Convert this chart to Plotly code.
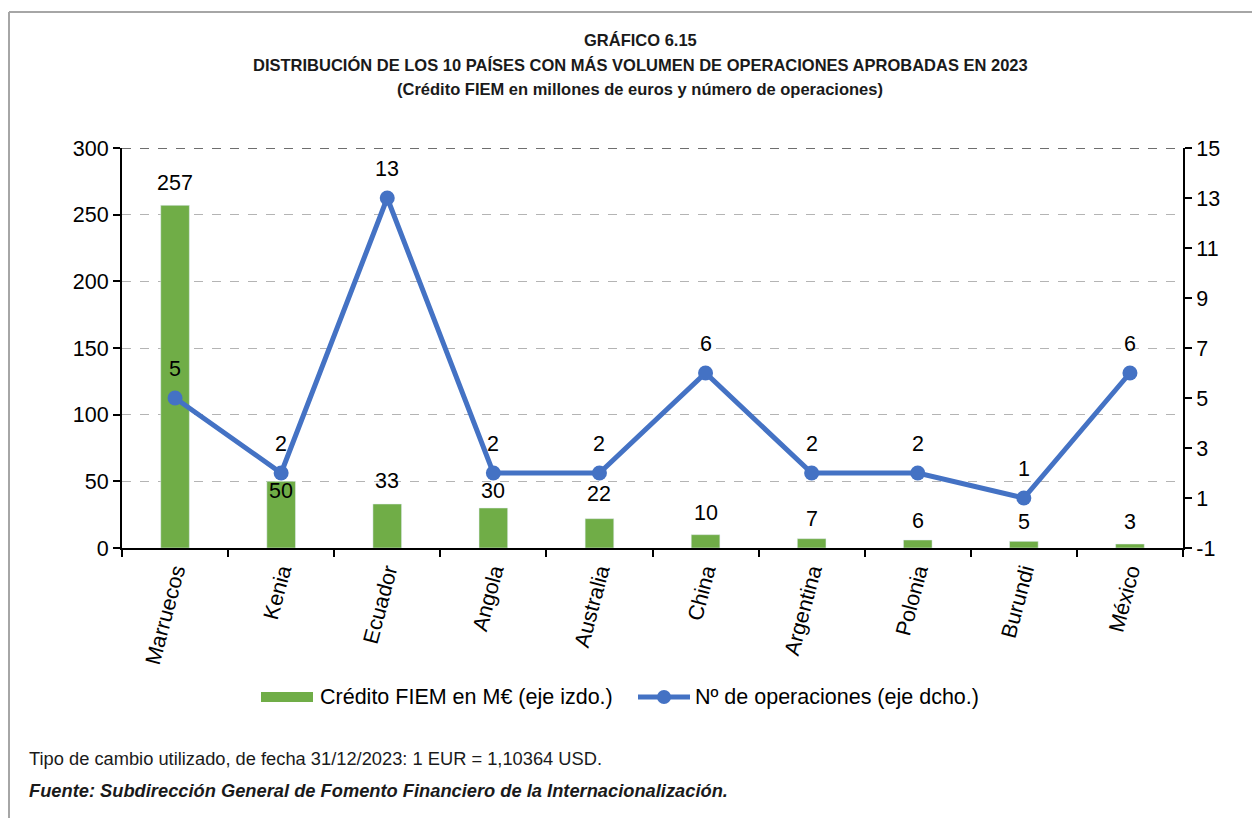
import plotly.graph_objects as go

countries = ["Marruecos", "Kenia", "Ecuador", "Angola", "Australia", "China",
             "Argentina", "Polonia", "Burundi", "México"]
credito = [257, 50, 33, 30, 22, 10, 7, 6, 5, 3]
operaciones = [5, 2, 13, 2, 2, 6, 2, 2, 1, 6]
left_ticks = [0, 50, 100, 150, 200, 250, 300]
right_ticks = [-1, 1, 3, 5, 7, 9, 11, 13, 15]

# label offsets (pixels) for bar value labels, mimicking the reference placement
bar_label_shift = [22, -10, 23, 17, 25, 22, 20, 19, 19, 22]
line_label_shift = 29

FONT = "Liberation Sans, Arial, sans-serif"
GREEN = "#70AD47"
BLUE = "#4472C4"
FS = 21.5

# plot area in reference pixels: x 122..1183, y 148..548
def px(x):
    return (x - 122) / 1061.0

def py(y):
    return (548 - y) / 400.0

fig = go.Figure()
fig.add_trace(go.Bar(
    x=countries, y=credito, name="Crédito FIEM en M€ (eje izdo.)",
    marker_color=GREEN, width=0.27, yaxis="y", showlegend=False))
fig.add_trace(go.Scatter(
    x=countries, y=operaciones, name="Nº de operaciones (eje dcho.)",
    mode="lines+markers", line=dict(color=BLUE, width=5),
    marker=dict(size=15, color=BLUE), yaxis="y2", showlegend=False))

annotations = []
for c, v, s in zip(countries, credito, bar_label_shift):
    annotations.append(dict(x=c, y=v, xref="x", yref="y", text=str(v),
                            showarrow=False, yshift=s, yanchor="middle",
                            font=dict(size=FS, color="#000", family=FONT)))
for c, v in zip(countries, operaciones):
    annotations.append(dict(x=c, y=v, xref="x", yref="y2", text=str(v),
                            showarrow=False, yshift=line_label_shift, yanchor="middle",
                            font=dict(size=FS, color="#000", family=FONT)))

title_lines = ["GRÁFICO 6.15",
               "DISTRIBUCIÓN DE LOS 10 PAÍSES CON MÁS VOLUMEN DE OPERACIONES APROBADAS EN 2023",
               "(Crédito FIEM en millones de euros y número de operaciones)"]
title_y = [40, 65, 89]
for t, yp in zip(title_lines, title_y):
    annotations.append(dict(x=px(640), y=py(yp), xref="paper", yref="paper", text="<b>%s</b>" % t,
                            showarrow=False, xanchor="center", yanchor="middle",
                            font=dict(size=16.5, color="#1a1a1a", family=FONT)))

# custom legend
annotations += [
    dict(x=px(318), y=py(697), xref="paper", yref="paper", text="Crédito FIEM en M€ (eje izdo.)",
         showarrow=False, xanchor="left", yanchor="middle", font=dict(size=FS, color="#000", family=FONT)),
    dict(x=px(693), y=py(697), xref="paper", yref="paper", text="Nº de operaciones (eje dcho.)",
         showarrow=False, xanchor="left", yanchor="middle", font=dict(size=FS, color="#000", family=FONT)),
    dict(x=px(27), y=py(758), xref="paper", yref="paper",
         text="Tipo de cambio utilizado, de fecha 31/12/2023: 1 EUR = 1,10364 USD.",
         showarrow=False, xanchor="left", yanchor="middle",
         font=dict(size=18.3, color="#1a1a1a", family=FONT)),
    dict(x=px(27), y=py(790), xref="paper", yref="paper",
         text="<b><i>Fuente: Subdirección General de Fomento Financiero de la Internacionalización.</i></b>",
         showarrow=False, xanchor="left", yanchor="middle",
         font=dict(size=18.3, color="#1a1a1a", family=FONT)),
]

shapes = [
    dict(type="line", xref="paper", yref="y", x0=0, x1=1, y0=300, y1=300,
         line=dict(color="#6e6e6e", width=2, dash="dash"), layer="above"),
    dict(type="line", xref="paper", yref="paper", x0=px(9), x1=px(1300), y0=py(12), y1=py(12),
         line=dict(color="#a6a6a6", width=2)),
    dict(type="line", xref="paper", yref="paper", x0=px(9), x1=px(9), y0=py(830), y1=py(12),
         line=dict(color="#a6a6a6", width=2)),
    dict(type="rect", xref="paper", yref="paper", x0=px(261), x1=px(313), y0=py(702), y1=py(692),
         fillcolor=GREEN, line=dict(width=0)),
    dict(type="line", xref="paper", yref="paper", x0=px(638), x1=px(690), y0=py(697), y1=py(697),
         line=dict(color=BLUE, width=5)),
    dict(type="circle", xref="paper", yref="paper", x0=px(657), x1=px(671), y0=py(704), y1=py(690),
         fillcolor=BLUE, line=dict(width=0)),
]

fig.update_layout(
    width=1252, height=810,
    margin=dict(l=114, r=77, t=140, b=270, autoexpand=False),
    paper_bgcolor="white", plot_bgcolor="white",
    font=dict(family=FONT, size=FS, color="#000"),
    showlegend=False,
    xaxis=dict(type="category", tickangle=-75, showline=True, linecolor="#000", linewidth=2,
               ticks="outside", ticklen=7, tickwidth=1.5, tickcolor="#000", tickson="boundaries",
               showgrid=False, tickfont=dict(size=FS, family=FONT), range=[-0.5, 9.5]),
    yaxis=dict(range=[0, 300], tickvals=left_ticks, showline=True, linecolor="#000", linewidth=2,
               ticks="outside", ticklen=7, tickwidth=1.5, tickcolor="#000",
               showgrid=True, gridcolor="#b4b4b4", griddash="dash", gridwidth=1.2,
               zeroline=False, tickfont=dict(size=FS, family=FONT)),
    yaxis2=dict(range=[-1, 15], tickvals=right_ticks, ticktext=[str(t) for t in right_ticks],
                overlaying="y", side="right",
                showline=True, linecolor="#000", linewidth=2,
                ticks="outside", ticklen=7, tickwidth=1.5, tickcolor="#000",
                showgrid=False, zeroline=False, tickfont=dict(size=FS, family=FONT)),
    annotations=annotations,
    shapes=shapes,
)

fig.write_html("out.html")
